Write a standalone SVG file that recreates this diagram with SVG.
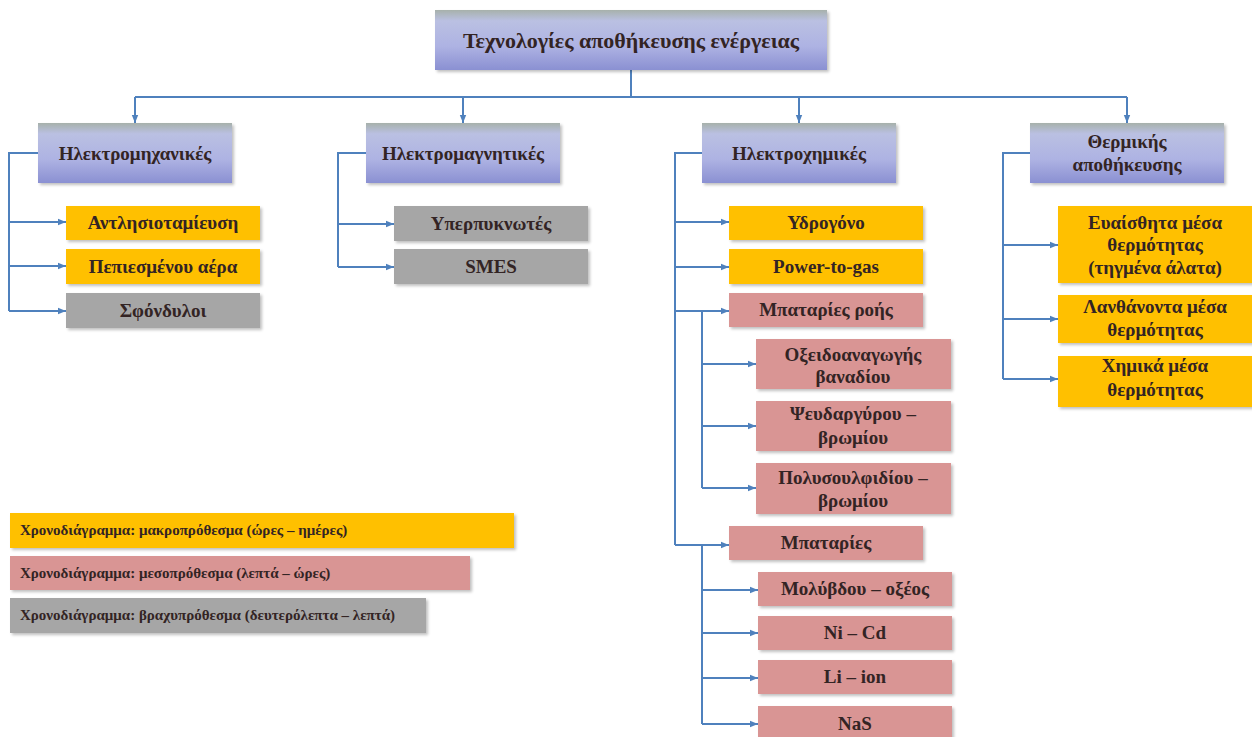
<svg xmlns="http://www.w3.org/2000/svg" width="1252" height="737" viewBox="0 0 1252 737">
<defs>
<linearGradient id="gH" x1="0" y1="0" x2="0" y2="1">
<stop offset="0" stop-color="#A7B1AB"/>
<stop offset="0.18" stop-color="#BAC0E2"/>
<stop offset="0.6" stop-color="#AEB3E3"/>
<stop offset="1" stop-color="#8A90D2"/>
</linearGradient>
<marker id="ah" viewBox="0 0 8 8" refX="8" refY="4" markerWidth="8" markerHeight="8" markerUnits="userSpaceOnUse" orient="auto">
<path d="M0,0.8 L8,4 L0,7.2 Z" fill="#4F81BD"/>
</marker>
<filter id="sh" x="-5%" y="-10%" width="115%" height="130%">
<feGaussianBlur in="SourceAlpha" stdDeviation="1.5"/>
<feOffset dx="1.5" dy="1.5" result="b"/>
<feComponentTransfer><feFuncA type="linear" slope="0.25"/></feComponentTransfer>
<feMerge><feMergeNode/><feMergeNode in="SourceGraphic"/></feMerge>
</filter>
</defs>
<style>
.hd{fill:url(#gH);filter:url(#sh)}
.y{fill:#FFC000;filter:url(#sh)}
.p{fill:#D99594;filter:url(#sh)}
.g{fill:#A6A6A6;filter:url(#sh)}
text{font-family:"Liberation Serif","Times New Roman",serif;fill:#332424;text-anchor:middle;font-weight:bold}
.t1{font-size:22px}
.t2{font-size:19px}
.t3{font-size:19px}
.lg{font-size:15px;text-anchor:start}
.c{fill:none;stroke:#4F81BD;stroke-width:2}
.a{fill:none;stroke:#4F81BD;stroke-width:2;marker-end:url(#ah)}
</style>
<rect width="1252" height="737" fill="#FFFFFF"/>

<g id="connectors">
<path class="c" d="M631,70 V97 M135,97 H1127"/>
<path class="a" d="M135,97 V123"/>
<path class="a" d="M463,97 V123"/>
<path class="a" d="M799,97 V123"/>
<path class="a" d="M1127,97 V123"/>
<path class="c" d="M38,153 H9 V311"/>
<path class="a" d="M9,222 H66"/>
<path class="a" d="M9,266 H66"/>
<path class="a" d="M9,311 H66"/>
<path class="c" d="M366,153 H338 V267"/>
<path class="a" d="M338,224 H394"/>
<path class="a" d="M338,267 H394"/>
<path class="c" d="M702,153 H675 V545"/>
<path class="a" d="M675,222 H729"/>
<path class="a" d="M675,267 H729"/>
<path class="a" d="M675,311 H729"/>
<path class="a" d="M675,545 H729"/>
<path class="c" d="M702,311 V488"/>
<path class="a" d="M702,364 H756"/>
<path class="a" d="M702,426 H756"/>
<path class="a" d="M702,488 H756"/>
<path class="c" d="M702,545 V724"/>
<path class="a" d="M702,590 H758"/>
<path class="a" d="M702,633 H758"/>
<path class="a" d="M702,678 H758"/>
<path class="a" d="M702,724 H758"/>
<path class="c" d="M1030,153 H1003 V379"/>
<path class="a" d="M1003,245 H1058"/>
<path class="a" d="M1003,319 H1058"/>
<path class="a" d="M1003,379 H1058"/>
</g>

<g id="root"><rect class="hd" x="435" y="10" width="392" height="60"/><text class="t1" x="631" y="48">Τεχνολογίες αποθήκευσης ενέργειας</text></g>

<g id="ilektromichanikes"><rect class="hd" x="38" y="123" width="194" height="60"/><text class="t2" x="135" y="160">Ηλεκτρομηχανικές</text></g>
<g id="ilektromagnitikes"><rect class="hd" x="366" y="123" width="194" height="60"/><text class="t2" x="463" y="160">Ηλεκτρομαγνητικές</text></g>
<g id="ilektroximikes"><rect class="hd" x="702" y="123" width="194" height="60"/><text class="t2" x="799" y="160">Ηλεκτροχημικές</text></g>
<g id="thermikis"><rect class="hd" x="1030" y="123" width="194" height="60"/><text class="t2" x="1127" y="148">Θερμικής</text><text class="t2" x="1127" y="171">αποθήκευσης</text></g>

<g id="antlisiotamieusi"><rect class="y" x="66" y="206" width="194" height="34"/><text class="t3" x="163" y="229">Αντλησιοταμίευση</text></g>
<g id="pepiesmenou"><rect class="y" x="66" y="249" width="194" height="35"/><text class="t3" x="163" y="273">Πεπιεσμένου αέρα</text></g>
<g id="sfondyloi"><rect class="g" x="66" y="293" width="194" height="35"/><text class="t3" x="163" y="317">Σφόνδυλοι</text></g>

<g id="yperpyknotes"><rect class="g" x="394" y="206" width="194" height="35"/><text class="t3" x="491" y="230">Υπερπυκνωτές</text></g>
<g id="smes"><rect class="g" x="394" y="249" width="194" height="35"/><text class="t3" x="491" y="273">SMES</text></g>

<g id="ydrogono"><rect class="y" x="729" y="206" width="194" height="34"/><text class="t3" x="826" y="229">Υδρογόνο</text></g>
<g id="power-to-gas"><rect class="y" x="729" y="249" width="194" height="35"/><text class="t3" x="826" y="273">Power-to-gas</text></g>
<g id="mpataries-rois"><rect class="p" x="729" y="293" width="194" height="34"/><text class="t3" x="826" y="316">Μπαταρίες ροής</text></g>
<g id="oxeidoanagogis"><rect class="p" x="756" y="339" width="195" height="50"/><text class="t3" x="853" y="361">Οξειδοαναγωγής</text><text class="t3" x="853" y="383">βαναδίου</text></g>
<g id="pseudargyrou"><rect class="p" x="756" y="401" width="195" height="50"/><text class="t3" x="853" y="420">Ψευδαργύρου –</text><text class="t3" x="853" y="444">βρωμίου</text></g>
<g id="polysoulfidiou"><rect class="p" x="756" y="463" width="195" height="51"/><text class="t3" x="853" y="484">Πολυσουλφιδίου –</text><text class="t3" x="853" y="507">βρωμίου</text></g>
<g id="mpataries"><rect class="p" x="729" y="526" width="194" height="34"/><text class="t3" x="826" y="549">Μπαταρίες</text></g>
<g id="molyvdou"><rect class="p" x="758" y="572" width="194" height="34"/><text class="t3" x="855" y="595">Μολύβδου – οξέος</text></g>
<g id="ni-cd"><rect class="p" x="758" y="616" width="194" height="34"/><text class="t3" x="855" y="639">Ni – Cd</text></g>
<g id="li-ion"><rect class="p" x="758" y="660" width="194" height="34"/><text class="t3" x="855" y="683">Li – ion</text></g>
<g id="nas"><rect class="p" x="758" y="706" width="194" height="36"/><text class="t3" x="855" y="730">NaS</text></g>

<g id="euaisthita"><rect class="y" x="1058" y="206" width="196" height="77"/><text class="t3" x="1155" y="229">Ευαίσθητα μέσα</text><text class="t3" x="1155" y="251">θερμότητας</text><text class="t3" x="1155" y="274">(τηγμένα άλατα)</text></g>
<g id="lanthanonta"><rect class="y" x="1058" y="295" width="196" height="48"/><text class="t3" x="1155" y="313">Λανθάνοντα μέσα</text><text class="t3" x="1155" y="336">θερμότητας</text></g>
<g id="ximika"><rect class="y" x="1058" y="356" width="196" height="51"/><text class="t3" x="1155" y="372">Χημικά μέσα</text><text class="t3" x="1155" y="396">θερμότητας</text></g>

<g id="legend">
<rect class="y" x="10" y="513" width="504" height="35"/><text class="lg" x="20" y="535">Χρονοδιάγραμμα: μακροπρόθεσμα (ώρες – ημέρες)</text>
<rect class="p" x="10" y="556" width="460" height="34"/><text class="lg" x="20" y="578">Χρονοδιάγραμμα: μεσοπρόθεσμα (λεπτά – ώρες)</text>
<rect class="g" x="10" y="598" width="416" height="35"/><text class="lg" x="20" y="620">Χρονοδιάγραμμα: βραχυπρόθεσμα (δευτερόλεπτα – λεπτά)</text>
</g>
</svg>
